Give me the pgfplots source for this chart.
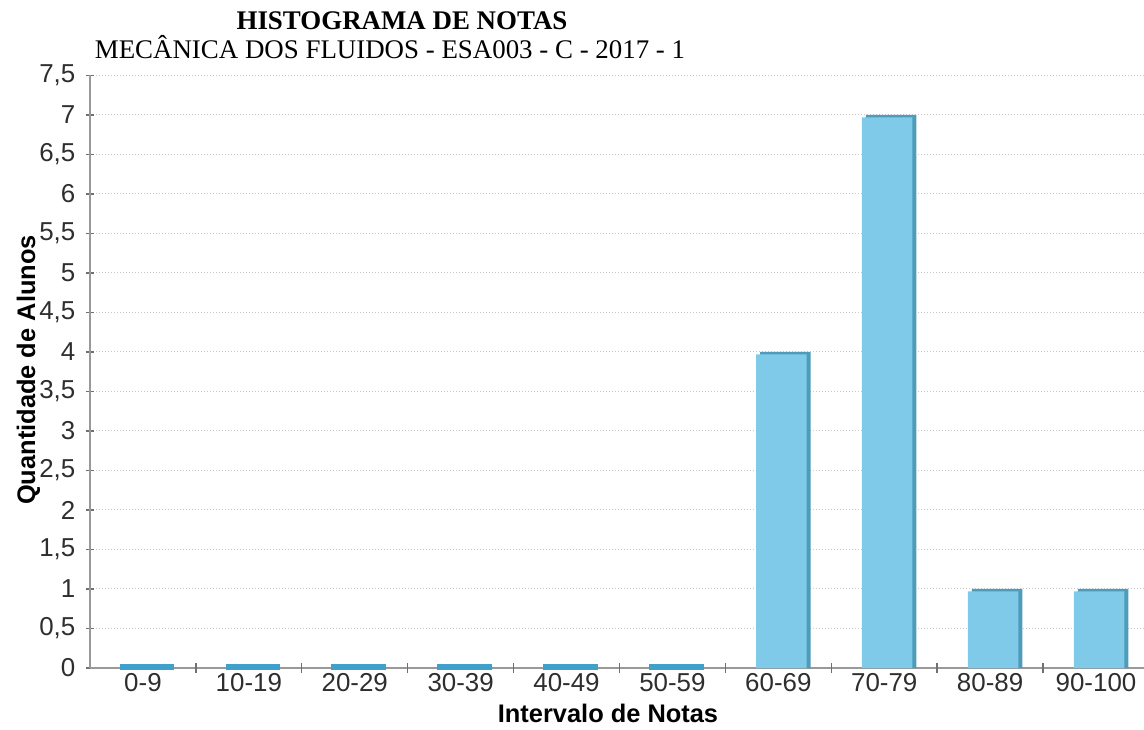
\documentclass[border=0pt]{standalone}
\usepackage{fontspec}
\setmainfont{Liberation Sans}
\newfontfamily\seriffont{Liberation Serif}
\usepackage{pgfplots}
\pgfplotsset{compat=1.18}
\definecolor{barfill}{HTML}{7ECAE8}
\definecolor{barshadow}{HTML}{4E9BBA}
\definecolor{zeroline}{HTML}{3FA0CC}
\definecolor{axisgray}{HTML}{999999}
\definecolor{tickgray}{HTML}{707070}
\definecolor{gridgray}{HTML}{C8C8C8}
\definecolor{ticktext}{HTML}{2E2E2E}
\begin{document}
\begin{tikzpicture}
\useasboundingbox (0,0) rectangle (1144bp,730bp);
\begin{axis}[
  at={(90bp,62bp)}, anchor=south west,
  scale only axis, width=1054bp, height=592.5bp,
  xmin=-0.5, xmax=9.453, ymin=0, ymax=7.5,
  axis lines=left,
  axis line style={draw=axisgray, line width=1.5bp, -},
  xtick={0,1,2,3,4,5,6,7,8,9},
  xticklabels={0-9,10-19,20-29,30-39,40-49,50-59,60-69,70-79,80-89,90-100},
  xtick style={draw=none},
  ytick={0,0.5,1,1.5,2,2.5,3,3.5,4,4.5,5,5.5,6,6.5,7,7.5},
  major tick length=9bp,
  tick align=center,
  ytick style={draw=tickgray, line width=1.2bp},
  ymajorgrids,
  grid style={draw=gridgray, line width=1bp, dash pattern=on 1bp off 2bp},
  /pgf/number format/.cd, use comma, assume math mode=true, /pgfplots/.cd,
  yticklabel style={anchor=east, inner sep=0pt, xshift=-10bp, font=\fontsize{26}{30}\selectfont, text=ticktext},
  xticklabel style={anchor=base, inner sep=0pt, yshift=-19bp, font=\fontsize{26}{30}\selectfont, text=ticktext},
  clip=false,
]
% shadow of bars
\addplot[ybar, bar width=0.477, bar shift=7bp, fill=barshadow, draw=none]
  coordinates {(6,4) (7,7) (8,1) (9,1)};
% bars
\addplot[ybar, bar width=0.477, bar shift=3bp, fill=barfill, draw=none]
  coordinates {(6,3.97) (7,6.97) (8,0.97) (9,0.97)};
% zero-height bars
\addplot[ybar, bar width=0.477, bar shift=4bp, fill=zeroline, draw=zeroline, line width=4bp]
  coordinates {(0,0.025) (1,0.025) (2,0.025) (3,0.025) (4,0.025) (5,0.025)};
% category boundary ticks on the x axis
\pgfplotsinvokeforeach{0.5,1.5,2.5,3.5,4.5,5.5,6.5,7.5,8.5}{
  \draw[tickgray, line width=1.4bp] ([yshift=-5bp]axis cs:#1,0) -- ([yshift=5bp]axis cs:#1,0);
}
\end{axis}
\node[anchor=base, font=\seriffont\bfseries\fontsize{27}{32}\selectfont] at (402bp,700bp) {HISTOGRAMA DE NOTAS};
\node[anchor=base, font=\seriffont\fontsize{27}{32}\selectfont] at (390bp,671bp) {MECÂNICA DOS FLUIDOS - ESA003 - C - 2017 - 1};
\node[anchor=base, font=\bfseries\fontsize{25.5}{30}\selectfont] at (608bp,8bp) {Intervalo de Notas};
\node[anchor=base, rotate=90, font=\bfseries\fontsize{25.5}{30}\selectfont] at (35bp,360bp) {Quantidade de Alunos};
\end{tikzpicture}
\end{document}
